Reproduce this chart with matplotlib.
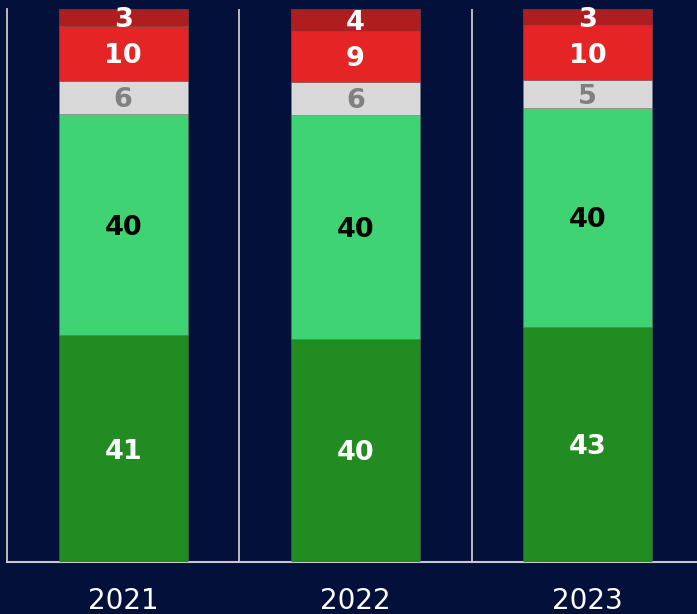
import matplotlib
matplotlib.use("Agg")
import matplotlib.pyplot as plt
import numpy as np

years = ["2021", "2022", "2023"]
strong_pos = [41, 40, 43]
pos = [40, 40, 40]
neutral = [6, 6, 5]
neg = [10, 9, 10]
strong_neg = [3, 4, 3]

series = [strong_pos, pos, neutral, neg, strong_neg]
colors = ["#228B22", "#40D373", "#D9D9D9", "#E52525", "#AE1E1E"]
text_colors = ["white", "black", "#808080", "white", "white"]

bg = "#02103A"
fig = plt.figure(figsize=(6.97, 6.14), dpi=100, facecolor=bg)
ax = fig.add_axes([7/697, 52/614, 690/697, 553/614])
ax.set_facecolor(bg)

x = np.arange(len(years))
totals = np.sum(np.array(series, dtype=float), axis=0)
bottom = np.zeros(len(years))
for vals, c, tc in zip(series, colors, text_colors):
    v = np.array(vals, dtype=float)
    h = v / totals * 100
    ax.bar(x, h, bottom=bottom, width=0.555, color=c, edgecolor=(0.5, 0.5, 0.5, 0.35), linewidth=0.6, zorder=3)
    for xi, hi, bi, lab in zip(x, h, bottom, vals):
        ax.text(xi, bi + hi / 2, str(lab), ha="center", va="center_baseline", color=tc,
                fontsize=19.5, fontweight="bold", zorder=4)
    bottom += h

ax.set_xlim(-0.5, 2.47)
ax.set_ylim(0, 100)
ax.set_xticks(x)
ax.set_xticklabels(years, color="white", fontsize=20)
ax.tick_params(axis="x", length=0, pad=18)
ax.set_yticks([])
for xv in [0.5, 1.5]:
    ax.axvline(xv, color="#C8C8C8", linewidth=1.3, zorder=1)
for s in ["top", "right"]:
    ax.spines[s].set_visible(False)
ax.spines["left"].set_color("#C8C8C8")
ax.spines["left"].set_linewidth(1.3)
ax.spines["bottom"].set_color("#C8C8C8")
ax.spines["bottom"].set_linewidth(1.5)

fig.savefig("out.png", dpi=100, facecolor=bg)
